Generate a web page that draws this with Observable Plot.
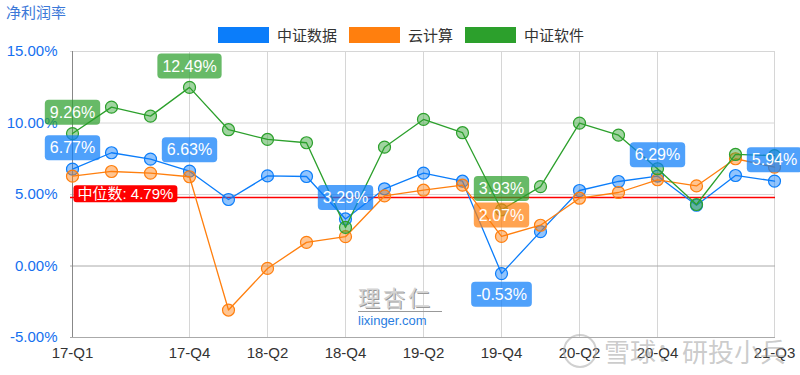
<!DOCTYPE html>
<html><head><meta charset="utf-8">
<script src="https://cdn.jsdelivr.net/npm/d3@7"></script>
<script src="https://cdn.jsdelivr.net/npm/@observablehq/plot@0.6"></script>
<style>
body{margin:0;background:#fff;font-family:"Liberation Sans",Arial,"Noto Sans CJK SC",sans-serif;}
#wrap{position:relative;width:800px;height:375px;overflow:hidden;}
#chart{position:absolute;left:0;top:0;}
#title{position:absolute;left:6px;top:3px;font-size:15px;color:#3b78d8;font-family:"Noto Sans CJK SC",sans-serif;line-height:18px;}
#legend{position:absolute;top:24px;left:218px;display:flex;align-items:center;font-size:15px;color:#333;font-family:"Noto Sans CJK SC",sans-serif;}
.item{display:flex;align-items:center;margin-right:12px;}
.sw{width:51px;height:16px;margin-right:8px;}
.wm{position:absolute;pointer-events:none;}
</style></head>
<body>
<div id="wrap">
  <div id="chart"></div>
  <div id="title">净利润率</div>
  <div id="legend"></div>
  <div class="wm" style="left:358px;top:285px;font-size:22px;line-height:22px;color:#d4d4d4;letter-spacing:3px;font-family:'Noto Sans CJK SC';text-shadow:1px 1px 0 #999;">理杏仁</div>
  <div class="wm" style="left:358px;top:311px;width:84px;border-top:1px solid #999;font-size:13px;line-height:15px;color:#2a7de1;padding-top:1px;">lixinger.com</div>
  <div class="wm" style="left:563px;top:334px;width:30px;height:30px;border:2px solid rgba(170,170,170,0.55);border-radius:50%;"></div>
  <div class="wm" style="left:604px;top:332px;font-size:26px;color:rgba(160,160,160,0.55);font-family:'Noto Sans CJK SC';">雪球：研投小兵</div>
</div>
<script>
const quarters = ["17-Q1","17-Q2","17-Q3","17-Q4","18-Q1","18-Q2","18-Q3","18-Q4","19-Q1","19-Q2","19-Q3","19-Q4","20-Q1","20-Q2","20-Q3","20-Q4","21-Q1","21-Q2","21-Q3"];
const xTicks = ["17-Q1","17-Q4","18-Q2","18-Q4","19-Q2","19-Q4","20-Q2","20-Q4","21-Q3"];
const yTicks = [-5, 0, 5, 10, 15];
const seriesNames = ["中证数据", "云计算", "中证软件"];
const seriesColors = ["#0b7dfa", "#ff7f0e", "#2ca02c"];
const dataZhengShuju = [6.77, 7.92, 7.47, 6.63, 4.65, 6.30, 6.26, 3.29, 5.40, 6.49, 5.93, -0.53, 2.40, 5.28, 5.91, 6.29, 4.25, 6.33, 5.94];
const dataYunJisuan = [6.28, 6.61, 6.49, 6.24, -3.08, -0.17, 1.65, 2.05, 4.90, 5.30, 5.65, 2.07, 2.85, 4.74, 5.14, 6.03, 5.60, 7.50, 6.91];
const dataRuanjian = [9.26, 11.11, 10.48, 12.49, 9.53, 8.85, 8.62, 2.70, 8.31, 10.25, 9.32, 3.93, 5.55, 9.99, 9.15, 6.80, 4.30, 7.80, 7.72];
const median = 4.79;
const labelPoints = [
  {series: "中证数据", q: "17-Q1", pos: "above"},
  {series: "中证软件", q: "17-Q1", pos: "above"},
  {series: "中证软件", q: "17-Q4", pos: "above"},
  {series: "中证数据", q: "17-Q4", pos: "above"},
  {series: "中证数据", q: "18-Q4", pos: "above"},
  {series: "中证软件", q: "19-Q4", pos: "above"},
  {series: "云计算", q: "19-Q4", pos: "above"},
  {series: "中证数据", q: "19-Q4", pos: "below"},
  {series: "中证数据", q: "20-Q4", pos: "above"},
  {series: "中证数据", q: "21-Q3", pos: "above"}
];

const seriesValues = {"中证数据": dataZhengShuju, "云计算": dataYunJisuan, "中证软件": dataRuanjian};
const rows = seriesNames.flatMap(s => quarters.map((q, i) => ({series: s, q, v: seriesValues[s][i]})));
const labels = labelPoints.map(l => ({...l, v: seriesValues[l.series][quarters.indexOf(l.q)]}));
const colorOf = s => seriesColors[seriesNames.indexOf(s)];

const leg = document.getElementById("legend");
seriesNames.forEach((s, i) => {
  const it = document.createElement("div"); it.className = "item";
  const sw = document.createElement("div"); sw.className = "sw"; sw.style.background = seriesColors[i];
  const tx = document.createElement("span"); tx.textContent = s;
  it.appendChild(sw); it.appendChild(tx); leg.appendChild(it);
});

const seriesMarks = seriesNames.flatMap(s => {
  const d = rows.filter(r => r.series === s);
  return [
    Plot.line(d, {x: "q", y: "v", stroke: colorOf(s), strokeWidth: 1.3}),
    Plot.dot(d, {x: "q", y: "v", r: 6, stroke: colorOf(s), fill: colorOf(s), fillOpacity: 0.45, strokeWidth: 1.2})
  ];
});

const chart = Plot.plot({
  width: 800, height: 375,
  marginLeft: 70, marginRight: 25, marginTop: 51, marginBottom: 38,
  style: {fontFamily: "'Liberation Sans', Arial, 'Noto Sans CJK SC', sans-serif", background: "transparent"},
  x: {type: "point", domain: quarters, padding: 0},
  y: {domain: [-5, 15]},
  marks: [
    Plot.gridY({ticks: [5, 10, 15], stroke: "#d6d6d6", strokeOpacity: 1}),
    Plot.gridX({ticks: xTicks, stroke: "#d6d6d6", strokeOpacity: 1}),
    Plot.ruleY([0, -5], {stroke: "#aaa"}),
    Plot.ruleX([quarters[0]], {stroke: "#888"}),
    Plot.axisY({ticks: yTicks, tickFormat: d => d.toFixed(2) + "%", tickSize: 0, tickPadding: 13, fontSize: 15, fill: "#1570ef", label: null}),
    Plot.axisX({ticks: xTicks, tickSize: 0, tickPadding: 10, fontSize: 15, fill: "#333", label: null}),
    Plot.ruleY([median], {stroke: "#ff0000", strokeWidth: 1.5}),
    ...seriesMarks,
    Plot.text([median], {x: () => quarters[0], y: d => d, text: d => "中位数: " + d.toFixed(2) + "%", textAnchor: "start", dx: 5, dy: -3, fill: "white", fontSize: 15}),
    Plot.text(labels, {x: "q", y: "v", text: d => d.v.toFixed(2) + "%", fill: "white", fontSize: 16})
  ]
});
document.getElementById("chart").appendChild(chart);

function boxify(group, colorFn, padX, padY, rx, opacity, offsets) {
  if (!group) return;
  const texts = group.querySelectorAll("text");
  texts.forEach((t, i) => {
    if (offsets) {
      const tr = t.getAttribute("transform") || "";
      t.setAttribute("transform", (tr + ` translate(0,${offsets[i]})`).trim());
    }
    const bb = t.getBBox();
    const r = document.createElementNS("http://www.w3.org/2000/svg", "rect");
    r.setAttribute("x", bb.x - padX); r.setAttribute("y", bb.y - padY);
    r.setAttribute("width", bb.width + 2 * padX); r.setAttribute("height", bb.height + 2 * padY);
    r.setAttribute("rx", rx); r.setAttribute("fill", colorFn(i)); r.setAttribute("fill-opacity", opacity);
    const tr2 = t.getAttribute("transform"); if (tr2) r.setAttribute("transform", tr2);
    t.parentNode.insertBefore(r, t);
  });
}
const textGroups = chart.querySelectorAll('g[aria-label="text"]');
boxify(textGroups[0], () => "#ff0000", 4, 0, 3, 1, null);
boxify(textGroups[1], i => colorOf(labels[i].series), 5, 4, 4, 0.72, labels.map(l => l.pos === "above" ? -21 : 21));
</script>
</body></html>
